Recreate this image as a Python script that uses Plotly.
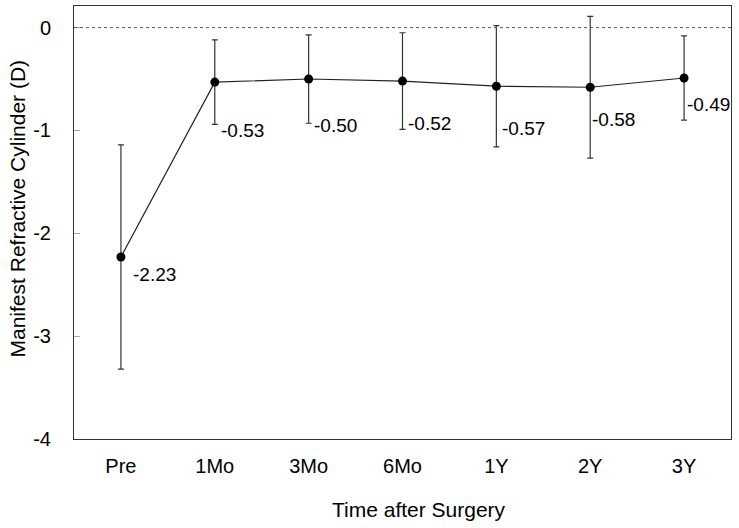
import plotly.graph_objects as go

categories = ["Pre", "1Mo", "3Mo", "6Mo", "1Y", "2Y", "3Y"]
means = [-2.23, -0.53, -0.50, -0.52, -0.57, -0.58, -0.49]
sds = [1.09, 0.41, 0.43, 0.47, 0.59, 0.69, 0.41]
labels = ["-2.23", "-0.53", "-0.50", "-0.52", "-0.57", "-0.58", "-0.49"]
y_ticks = [0, -1, -2, -3, -4]
x_title = "Time after Surgery"
y_title = "Manifest Refractive Cylinder (D)"

# label offsets (pixels) - styling only
label_dx = [10, 4, 3, 3, 4, 0, 1]
label_dy = [-18, -48, -46, -42, -42, -32, -26]

FONT = "Liberation Sans, Arial, sans-serif"

fig = go.Figure()
fig.add_trace(go.Scatter(
    x=categories, y=means, mode="lines+markers",
    line=dict(color="#222222", width=1.2),
    marker=dict(color="black", size=9),
    error_y=dict(type="data", array=sds, visible=True, color="#333333",
                 thickness=1.2, width=3),
    showlegend=False,
))

for c, m, t, dx, dy in zip(categories, means, labels, label_dx, label_dy):
    fig.add_annotation(x=c, y=m, text=t, showarrow=False, xanchor="left",
                       yanchor="middle", xshift=dx, yshift=dy,
                       font=dict(family=FONT, size=19, color="black"))

# axis titles as annotations for precise placement
fig.add_annotation(xref="paper", yref="paper", x=0.525, y=-0.162, text=x_title,
                   showarrow=False, xanchor="center", yanchor="middle",
                   font=dict(family=FONT, size=21, color="black"))
fig.add_annotation(xref="paper", yref="paper", x=-0.0845, y=0.5335, text=y_title,
                   showarrow=False, xanchor="center", yanchor="middle", textangle=-90,
                   font=dict(family=FONT, size=21, color="black"))

fig.add_hline(y=0, line=dict(color="#555555", width=1, dash="dot"))

fig.update_layout(
    width=739, height=528,
    margin=dict(l=74, r=8, t=6, b=89, autoexpand=False),
    paper_bgcolor="white", plot_bgcolor="white",
    font=dict(family=FONT, size=18, color="black"),
    xaxis=dict(
        type="category", range=[-0.5, 6.5], automargin=False,
        showline=True, linecolor="#333333", linewidth=1, mirror=True,
        showgrid=False, zeroline=False, ticks="", ticklabelstandoff=9,
        tickfont=dict(size=20),
    ),
    yaxis=dict(
        range=[-4, 0.21], tickvals=y_ticks, ticktext=[str(v) for v in y_ticks],
        automargin=False,
        showline=True, linecolor="#333333", linewidth=1, mirror=True,
        showgrid=False, zeroline=False, ticks="inside", ticklen=6, tickcolor="#aaaaaa",
        ticklabelstandoff=18,
        tickfont=dict(size=20),
    ),
)

fig.write_html("out.html", config={"displayModeBar": False},
               post_script="document.body.style.margin='0';document.body.style.overflow='hidden';")
